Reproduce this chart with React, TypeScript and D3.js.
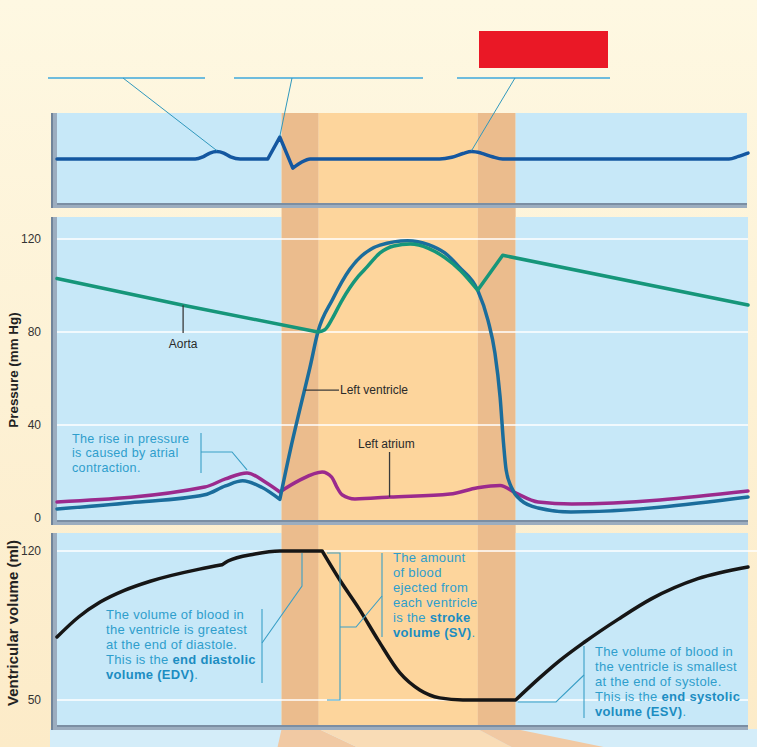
// @ts-nocheck
import React, { useEffect, useRef } from "react";
import * as d3 from "d3";

// cardiac cycle phases (ms)
const phaseEdges = [0, 260, 303, 487, 531, 800];
const phaseFill = ["#c7e8f8", "#ebbc8d", "#fdd59c", "#ebbc8d", "#c7e8f8"];

// ECG (mV)
const ecgTime = [0, 160, 169, 177, 185, 193, 201, 212, 244, 258, 273, 283, 293, 443, 457, 470, 480, 491, 504, 516, 778, 789, 800];
const ecgValue = [0, 0, 0.1, 0.27, 0.34, 0.27, 0.1, 0, 0, 1.0, -0.42, -0.15, 0, 0, 0.08, 0.25, 0.34, 0.27, 0.1, 0, 0, 0.12, 0.27];
const ecgBreaks = [244, 258, 273];

// pressures (mm Hg)
const aortaTime = [0, 146, 302, 310, 319, 329, 339, 349, 359, 374, 390, 409, 430, 449, 467, 487, 516, 800];
const aortaValue = [103, 91.5, 80, 81, 86, 93, 99, 104, 108, 114, 117, 117.8, 116, 112, 106.5, 98, 113, 91.6];
const aortaBreaks = [302, 487, 516];

const lvTime = [0, 85, 171, 195, 215, 237, 258, 270, 281, 293, 302, 319, 339, 374, 406, 430, 449, 466, 487, 499, 507, 513, 517, 520, 526, 537, 557, 595, 800];
const lvValue = [3.9, 6.6, 10, 13.8, 16, 13.2, 8, 29, 46.5, 65, 80, 94, 107, 117.4, 119.3, 117.6, 114, 107.8, 98, 85, 71, 52, 32, 20.6, 13.3, 7.7, 4.3, 2.6, 9];
const lvBreaks = [258];

const laTime = [0, 171, 195, 220, 241, 258, 281, 307, 318, 324, 330, 345, 385, 455, 487, 513, 531, 557, 596, 800];
const laValue = [6.9, 13.3, 16.8, 19.4, 15.5, 11.2, 16.3, 19.8, 17.6, 13.3, 10, 8.2, 9, 10.3, 13, 14, 10.8, 6.9, 6, 11.6];
const laBreaks = [258];

// ventricular volume (ml)
const volTime = [0, 25, 50, 78, 108, 165, 191, 198, 229, 258, 307, 328, 350, 372, 397, 420, 443, 470, 531, 559, 582, 610, 650, 688, 742, 800];
const volValue = [79.6, 89, 96, 101.5, 105.8, 111.5, 113.5, 115.3, 118.6, 120, 120, 106, 92.7, 78, 62.7, 54.7, 51, 50, 50, 60.5, 68.5, 77, 88, 97.5, 107, 112.5];
const volBreaks = [191, 307, 531];

const pressureTicks = [0, 40, 80, 120];
const volumeTicks = [50, 120];

const riseNote = ["The rise in pressure", "is caused by atrial", "contraction."];
const edvNote = [
  "The volume of blood in",
  "the ventricle is greatest",
  "at the end of diastole.",
  "This is the **end diastolic**",
  "**volume (EDV)**.",
];
const svNote = ["The amount", "of blood", "ejected from", "each ventricle", "is the **stroke**", "**volume (SV)**."];
const esvNote = [
  "The volume of blood in",
  "the ventricle is smallest",
  "at the end of systole.",
  "This is the **end systolic**",
  "**volume (ESV)**.",
];

const W = 757;
const H = 747;

// split a series into pieces at sharp corners
const pieces = (ts, vs, breaks) => {
  const out = [];
  let cur = [];
  ts.forEach((t, i) => {
    cur.push([t, vs[i]]);
    if (breaks.includes(t) && cur.length > 1) {
      out.push(cur);
      cur = [[t, vs[i]]];
    }
  });
  if (cur.length > 1) out.push(cur);
  return out;
};

const App = () => {
  const svgRef = useRef();

  useEffect(() => {
    const svg = d3.select(svgRef.current);
    svg.selectAll("*").remove();

    const x = d3.scaleLinear().domain([0, 800]).range([57, 748]);
    const yE = d3.scaleLinear().domain([-2.1, 2.1]).range([205, 113]);
    const yP = d3.scaleLinear().domain([0, 120]).range([518, 239]);
    const yV = d3.scaleLinear().domain([50, 120]).range([700, 551]);

    const panels = [
      { top: 113, bottom: 203, right: 747 },
      { top: 217, bottom: 520, right: 748 },
      { top: 533, bottom: 725, right: 748 },
    ];

    const defs = svg.append("defs");
    const grad = defs
      .append("linearGradient")
      .attr("id", "bg")
      .attr("x1", 0)
      .attr("y1", 0)
      .attr("x2", 0)
      .attr("y2", 1);
    grad.append("stop").attr("offset", "0%").attr("stop-color", "#fef8e2");
    grad.append("stop").attr("offset", "100%").attr("stop-color", "#fcebc8");

    svg.append("rect").attr("width", W).attr("height", H).attr("fill", "url(#bg)");

    // floor strip under the bottom panel
    svg.append("rect").attr("x", 50).attr("y", 729).attr("width", W - 50).attr("height", 18).attr("fill", "#d4edf9");
    const floor = [
      [phaseEdges[1], phaseEdges[2], -4, 38, "#f1c9a3"],
      [phaseEdges[2], phaseEdges[3], 38, 34, "#f9dcb6"],
      [phaseEdges[3], phaseEdges[4], 34, 88, "#f1c9a3"],
    ];
    floor.forEach(([a, b, da, db, c]) => {
      svg
        .append("polygon")
        .attr("points", `${x(a)},729 ${x(b)},729 ${x(b) + db},747 ${x(a) + da},747`)
        .attr("fill", c);
    });

    // phase bands
    phaseEdges.slice(0, -1).forEach((t0, i) => {
      const t1 = phaseEdges[i + 1];
      if (i === 0 || i === 4) {
        panels.forEach((p) => {
          svg
            .append("rect")
            .attr("x", x(t0))
            .attr("y", p.top)
            .attr("width", Math.min(x(t1), p.right) - x(t0))
            .attr("height", p.bottom - p.top)
            .attr("fill", phaseFill[i]);
        });
      } else {
        svg
          .append("rect")
          .attr("x", x(t0))
          .attr("y", 113)
          .attr("width", x(t1) - x(t0))
          .attr("height", 729 - 113)
          .attr("fill", phaseFill[i]);
      }
    });

    // gridlines
    pressureTicks.slice(1).forEach((v) => {
      svg
        .append("line")
        .attr("x1", 57)
        .attr("x2", 748)
        .attr("y1", yP(v))
        .attr("y2", yP(v))
        .attr("stroke", "#fff")
        .attr("stroke-width", 1.5);
    });
    volumeTicks.forEach((v) => {
      svg
        .append("line")
        .attr("x1", 57)
        .attr("x2", v === 120 ? W : 748)
        .attr("y1", yV(v))
        .attr("y2", yV(v))
        .attr("stroke", "#fff")
        .attr("stroke-width", 1.5);
    });

    // axis bars
    panels.forEach((p) => {
      svg
        .append("rect")
        .attr("x", 51)
        .attr("y", p.bottom)
        .attr("width", p.right - 51)
        .attr("height", 5)
        .attr("fill", "#9cadbf");
      svg
        .append("line")
        .attr("x1", 51)
        .attr("x2", p.right)
        .attr("y1", p.bottom + 1)
        .attr("y2", p.bottom + 1)
        .attr("stroke", "#70849a")
        .attr("stroke-width", 1.5);
      svg
        .append("rect")
        .attr("x", 51)
        .attr("y", p.top)
        .attr("width", 6)
        .attr("height", p.bottom + 5 - p.top)
        .attr("fill", "#9cadbf");
      svg
        .append("line")
        .attr("x1", 52)
        .attr("x2", 52)
        .attr("y1", p.top)
        .attr("y2", p.bottom + 5)
        .attr("stroke", "#70849a")
        .attr("stroke-width", 2);
    });

    // curves
    const drawSeries = (ts, vs, breaks, yScale, color) => {
      const line = d3
        .line()
        .x((d) => x(d[0]))
        .y((d) => yScale(d[1]))
        .curve(d3.curveMonotoneX);
      const d = pieces(ts, vs, breaks)
        .map((pc, i) => {
          const s = line(pc);
          return i === 0 ? s : "L" + s.slice(1);
        })
        .join("");
      svg
        .append("path")
        .attr("d", d)
        .attr("fill", "none")
        .attr("stroke", color)
        .attr("stroke-width", 3.5)
        .attr("stroke-linejoin", "round")
        .attr("stroke-linecap", "round");
    };

    drawSeries(ecgTime, ecgValue, ecgBreaks, yE, "#1457a0");
    drawSeries(laTime, laValue, laBreaks, yP, "#9b2a8d");
    drawSeries(lvTime, lvValue, lvBreaks, yP, "#1b6d9c");
    drawSeries(aortaTime, aortaValue, aortaBreaks, yP, "#16967a");
    drawSeries(volTime, volValue, volBreaks, yV, "#161616");

    // top label rules, redaction box and leaders to the ECG waves
    const rules = [
      [48, 205],
      [234, 423],
      [457, 610],
    ];
    rules.forEach(([a, b]) => {
      svg
        .append("line")
        .attr("x1", a)
        .attr("x2", b)
        .attr("y1", 78)
        .attr("y2", 78)
        .attr("stroke", "#3ea8dc")
        .attr("stroke-width", 1.5);
    });
    svg.append("rect").attr("x", 479).attr("y", 31).attr("width", 129).attr("height", 37).attr("fill", "#ea1826");

    const ecgAt = (t) => ecgValue[ecgTime.indexOf(t)];
    const leaders = [
      [123, 185],
      [292, 258],
      [515, 480],
    ];
    leaders.forEach(([x0, t]) => {
      svg
        .append("line")
        .attr("x1", x0)
        .attr("y1", 78)
        .attr("x2", x(t))
        .attr("y2", yE(ecgAt(t)) - 1)
        .attr("stroke", "#3098bd")
        .attr("stroke-width", 1);
    });

    // axes text
    const tickFont = "'Liberation Sans', Arial, sans-serif";
    pressureTicks.forEach((v) => {
      svg
        .append("text")
        .attr("x", 41)
        .attr("y", yP(v))
        .attr("dy", "0.35em")
        .attr("text-anchor", "end")
        .attr("font-family", tickFont)
        .attr("font-size", 12)
        .attr("fill", "#333")
        .text(v);
    });
    volumeTicks.forEach((v) => {
      svg
        .append("text")
        .attr("x", 41)
        .attr("y", yV(v))
        .attr("dy", "0.35em")
        .attr("text-anchor", "end")
        .attr("font-family", tickFont)
        .attr("font-size", 12)
        .attr("fill", "#333")
        .text(v);
    });
    [
      ["Pressure (mm Hg)", 370, 13.4],
      ["Ventricular volume (ml)", 623, 15],
    ].forEach(([label, cy, fs]) => {
      svg
        .append("text")
        .attr("transform", `translate(13,${cy}) rotate(-90)`)
        .attr("dy", "0.35em")
        .attr("text-anchor", "middle")
        .attr("font-family", tickFont)
        .attr("font-weight", 700)
        .attr("font-size", fs)
        .attr("fill", "#222")
        .text(label);
    });

    // curve labels
    const labelText = (tx, ty, s, anchor = "start") =>
      svg
        .append("text")
        .attr("x", tx)
        .attr("y", ty)
        .attr("text-anchor", anchor)
        .attr("font-family", tickFont)
        .attr("font-size", 12)
        .attr("fill", "#2a2a2a")
        .text(s);
    const darkLine = (x1, y1, x2, y2) =>
      svg
        .append("line")
        .attr("x1", x1)
        .attr("y1", y1)
        .attr("x2", x2)
        .attr("y2", y2)
        .attr("stroke", "#3a3a3a")
        .attr("stroke-width", 1.3);

    darkLine(x(146), yP(91.5), x(146), 333);
    labelText(x(146), 348, "Aorta", "middle");
    darkLine(x(287), yP(55), 339, yP(55));
    labelText(340, yP(55) + 4, "Left ventricle");
    darkLine(x(385), 452, x(385), yP(9));
    labelText(358, 448, "Left atrium");

    // blue notes: one text element per note, one tspan per line
    const noteFont = "'Liberation Sans', Arial, sans-serif";
    const note = (lines, tx, y0, dy, fs) => {
      const t = svg
        .append("text")
        .attr("x", tx)
        .attr("y", y0)
        .attr("font-family", noteFont)
        .attr("font-size", fs)
        .attr("letter-spacing", 0.3);
      lines.forEach((ln, i) => {
        const row = t
          .append("tspan")
          .attr("x", tx)
          .attr("y", y0 + i * dy);
        ln.split("**").forEach((seg, k) => {
          if (!seg) return;
          row
            .append("tspan")
            .attr("font-weight", k % 2 ? 700 : 400)
            .attr("fill", k % 2 ? "#1c8dc2" : "#2f9ecc")
            .text(seg);
        });
      });
    };
    const blueLine = (pts) =>
      svg
        .append("polyline")
        .attr("points", pts.map((p) => p.join(",")).join(" "))
        .attr("fill", "none")
        .attr("stroke", "#3a9fc6")
        .attr("stroke-width", 1.1);

    note(riseNote, 72, 443, 14.4, 12.6);
    blueLine([
      [201, 433],
      [201, 473],
    ]);
    blueLine([
      [201, 452],
      [232, 452],
      [x(220), yP(19.4) - 3],
    ]);

    note(edvNote, 106, 619, 15, 13);
    blueLine([
      [262, 609],
      [262, 683],
    ]);
    blueLine([
      [262, 643],
      [302, 586],
      [302, 553],
    ]);

    note(svNote, 393, 562, 15, 13);
    blueLine([
      [327, yV(120) + 2],
      [340, yV(120) + 2],
      [340, yV(50)],
      [327, yV(50)],
    ]);
    blueLine([
      [340, 627],
      [356, 627],
      [382, 596],
    ]);
    blueLine([
      [382, 553],
      [382, 637],
    ]);

    note(esvNote, 595, 656, 15, 13);
    blueLine([
      [584, 646],
      [584, 718],
    ]);
    blueLine([
      [584, 675],
      [556, 702],
      [x(531) + 2, 702],
    ]);
  }, []);

  return (
    <svg
      ref={svgRef}
      width={W}
      height={H}
      style={{ position: "absolute", left: 0, top: 0, display: "block" }}
    ></svg>
  );
};

export default App;
